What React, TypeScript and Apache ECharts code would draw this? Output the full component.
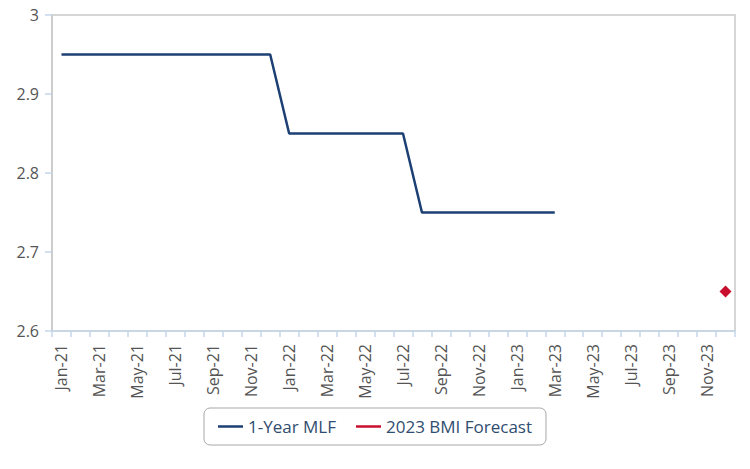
import React, { useEffect, useRef } from "react";
import * as echarts from "echarts";

const months = ["Jan", "Feb", "Mar", "Apr", "May", "Jun", "Jul", "Aug", "Sep", "Oct", "Nov", "Dec"];
const years = ["21", "22", "23"];
const categories: string[] = years.flatMap((y) => months.map((m) => `${m}-${y}`));

const mlf: (number | null)[] = [
  2.95, 2.95, 2.95, 2.95, 2.95, 2.95, 2.95, 2.95, 2.95, 2.95, 2.95, 2.95,
  2.85, 2.85, 2.85, 2.85, 2.85, 2.85, 2.85, 2.75, 2.75, 2.75, 2.75, 2.75,
  2.75, 2.75, 2.75, null, null, null, null, null, null, null, null, null,
];

const forecast: (number | null)[] = [
  null, null, null, null, null, null, null, null, null, null, null, null,
  null, null, null, null, null, null, null, null, null, null, null, null,
  null, null, null, null, null, null, null, null, null, null, null, 2.65,
];

const FONT = "'Open Sans', 'Noto Sans', sans-serif";

export default function App() {
  const ref = useRef<HTMLDivElement>(null);
  useEffect(() => {
    document.body.style.margin = "0";
    if (!ref.current) return;
    const chart = echarts.init(ref.current, undefined, { renderer: "svg" });
    chart.setOption({
      animation: false,
      textStyle: { fontFamily: FONT },
      grid: {
        left: 52,
        right: 15,
        top: 15,
        bottom: 138,
        show: true,
        borderColor: "#c9c9c9",
        borderWidth: 1.5,
      },
      legend: {
        bottom: 24,
        left: "center",
        data: ["1-Year MLF", "2023 BMI Forecast"],
        icon: "path://M0,0 L30,0 L30,3 L0,3 Z",
        itemWidth: 25,
        itemHeight: 3,
        itemGap: 20,
        borderColor: "#a8a8a8",
        borderWidth: 1,
        borderRadius: 6,
        padding: [10, 14, 10, 14],
        textStyle: { color: "#2f4d70", fontSize: 17, fontFamily: FONT },
      },
      xAxis: {
        type: "category",
        data: categories,
        boundaryGap: true,
        axisLine: { show: true, lineStyle: { color: "#c5d6ea", width: 1.5 } },
        axisTick: { show: true, interval: 0, length: 6, lineStyle: { color: "#c5d6ea", width: 1.5 } },
        axisLabel: {
          interval: 1,
          rotate: 90,
          color: "#555555",
          fontSize: 16,
          fontFamily: FONT,
          margin: 13,
        },
        splitLine: { show: false },
      },
      yAxis: {
        type: "value",
        min: 2.6,
        max: 3,
        interval: 0.1,
        axisLine: { show: true, lineStyle: { color: "#c9c9c9", width: 1.5 } },
        axisTick: { show: true, length: 7, lineStyle: { color: "#c5d6ea", width: 1.5 } },
        axisLabel: {
          color: "#555555",
          fontSize: 16,
          fontFamily: FONT,
          margin: 13,
          formatter: (v: number) => String(Math.round(v * 10) / 10),
        },
        splitLine: { show: false },
      },
      series: [
        {
          name: "1-Year MLF",
          type: "line",
          data: mlf,
          showSymbol: false,
          symbol: "none",
          lineStyle: { color: "#1c3f74", width: 2.5 },
          itemStyle: { color: "#1c3f74" },
          connectNulls: false,
        },
        {
          name: "2023 BMI Forecast",
          type: "line",
          data: forecast,
          symbol: "diamond",
          symbolSize: 12,
          showSymbol: true,
          lineStyle: { color: "#c8102e", width: 2.5 },
          itemStyle: { color: "#c8102e" },
        },
      ],
    });
    return () => chart.dispose();
  }, []);
  return <div ref={ref} style={{ width: 750, height: 469 }} />;
}
